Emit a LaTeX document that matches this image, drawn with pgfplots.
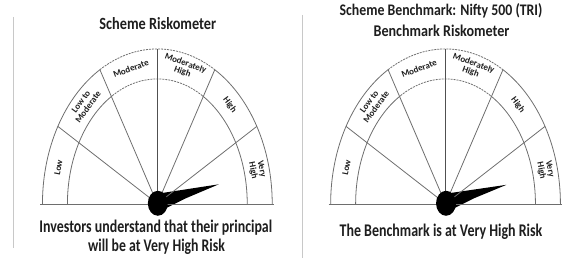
\documentclass[border=0pt]{standalone}
\usepackage{pgfplots}
\pgfplotsset{compat=1.18}
\usepackage{fontspec}
\setmainfont{Carlito}
\usepackage{graphicx}
\definecolor{mgray}{HTML}{6E6E6E}
\definecolor{dgray}{HTML}{505050}
\definecolor{sgray}{HTML}{C8C8C8}
\definecolor{txt}{HTML}{1E1E1E}

\newcommand{\meter}[1]{%
  % outer arc
  \draw[mgray, line width=0.8pt] ([shift={(180:115pt and 155pt)}]#1) arc[start angle=180, end angle=120, x radius=115pt, y radius=155pt];
  \draw[mgray, line width=0.8pt, dash pattern=on 2pt off 1pt] ([shift={(120:115pt and 155pt)}]#1) arc[start angle=120, end angle=60, x radius=115pt, y radius=155pt];
  \draw[mgray, line width=0.8pt] ([shift={(60:115pt and 155pt)}]#1) arc[start angle=60, end angle=0, x radius=115pt, y radius=155pt];
  % inner arc
  \draw[mgray, line width=0.8pt] ([shift={(180:90pt and 125pt)}]#1) arc[start angle=180, end angle=120, x radius=90pt, y radius=125pt];
  \draw[mgray, line width=0.8pt, dash pattern=on 2pt off 1pt] ([shift={(120:90pt and 125pt)}]#1) arc[start angle=120, end angle=60, x radius=90pt, y radius=125pt];
  \draw[mgray, line width=0.8pt] ([shift={(60:90pt and 125pt)}]#1) arc[start angle=60, end angle=0, x radius=90pt, y radius=125pt];
  % radial lines
  \draw[mgray, line width=0.8pt] (#1) -- ([shift={(30:115pt and 155pt)}]#1);
  \draw[mgray, line width=0.8pt] (#1) -- ([shift={(60:115pt and 155pt)}]#1);
  \draw[dgray, line width=0.9pt] (#1) -- ([shift={(90:115pt and 155pt)}]#1);
  \draw[mgray, line width=0.8pt] (#1) -- ([shift={(120:115pt and 155pt)}]#1);
  \draw[mgray, line width=0.8pt] (#1) -- ([shift={(150:115pt and 155pt)}]#1);
  % base line
  \draw[mgray, line width=1.2pt] ([shift={(-117pt,-0.5pt)}]#1) -- ([shift={(117pt,-0.5pt)}]#1);
  % labels
  \begin{scope}[every node/.style={inner sep=0pt, align=center, text=txt, font=\fontsize{9}{8.8}\selectfont\bfseries}]
  \node[rotate=78.9] at ([shift={(165:102.5pt and 140pt)}]#1) {Low};
  \node[rotate=53.8] at ([shift={(135:103pt and 141pt)}]#1) {Low to\\Moderate};
  \node[rotate=20.1] at ([shift={(105:102.5pt and 140pt)}]#1) {Moderate};
  \node[rotate=-20.1] at ([shift={(75:103pt and 141pt)}]#1) {Moderately\\High};
  \node[rotate=-53.8] at ([shift={(45:102.5pt and 140pt)}]#1) {High};
  \node[rotate=-78.9] at ([shift={(14:103pt and 141pt)}]#1) {Very\\High};
  \end{scope}
}

\begin{document}
\begin{tikzpicture}
\begin{axis}[
  width=563pt, height=263pt, scale only axis,
  xmin=0, xmax=563, ymin=0, ymax=263, y dir=reverse,
  hide axis, clip=false,
]
\path (rel axis cs:0,0) rectangle (rel axis cs:1,1);
\coordinate (C1) at (axis cs:157.5,204);
\coordinate (C2) at (axis cs:446,204);
% separators
\addplot[sgray, line width=0.8pt] coordinates {(13,17) (13,248)};
\addplot[sgray, line width=0.8pt] coordinates {(303,15) (303,258)};
% needles (pointing at Very High)
\addplot[fill=black, draw=none] coordinates {(157,194) (219,184.5) (186,198.5) (163,210)} -- cycle;
\addplot[fill=black, draw=none] coordinates {(445.5,194) (507,185) (474.5,198.5) (451.5,210)} -- cycle;
% titles
\node[anchor=base, inner sep=0pt, text=txt] at (axis cs:158,29.3) {\resizebox{117pt}{12pt}{\bfseries Scheme Riskometer}};
\node[anchor=base, inner sep=0pt, text=txt] at (axis cs:441.5,15.7) {\resizebox{203pt}{12pt}{\bfseries Scheme Benchmark: Nifty 500 (TRI)}};
\node[anchor=base, inner sep=0pt, text=txt] at (axis cs:442,36.5) {\resizebox{136pt}{11.5pt}{\bfseries Benchmark Riskometer}};
% bottom texts
\node[anchor=base, inner sep=0pt, text=txt] at (axis cs:156,233) {\resizebox{233pt}{12.5pt}{\bfseries Investors understand that their principal}};
\node[anchor=base, inner sep=0pt, text=txt] at (axis cs:156.7,252) {\resizebox{137pt}{12.5pt}{\bfseries will be at Very High Risk}};
\node[anchor=base, inner sep=0pt, text=txt] at (axis cs:441.5,237) {\resizebox{203pt}{12.5pt}{\bfseries The Benchmark is at Very High Risk}};
\end{axis}
\meter{C1}
\meter{C2}
\fill[black] ([shift={(0.5pt,0.5pt)}]C1) ellipse[x radius=10pt, y radius=12.5pt];
\fill[black] ([shift={(0.5pt,0.5pt)}]C2) ellipse[x radius=10pt, y radius=12.5pt];
\end{tikzpicture}
\end{document}
